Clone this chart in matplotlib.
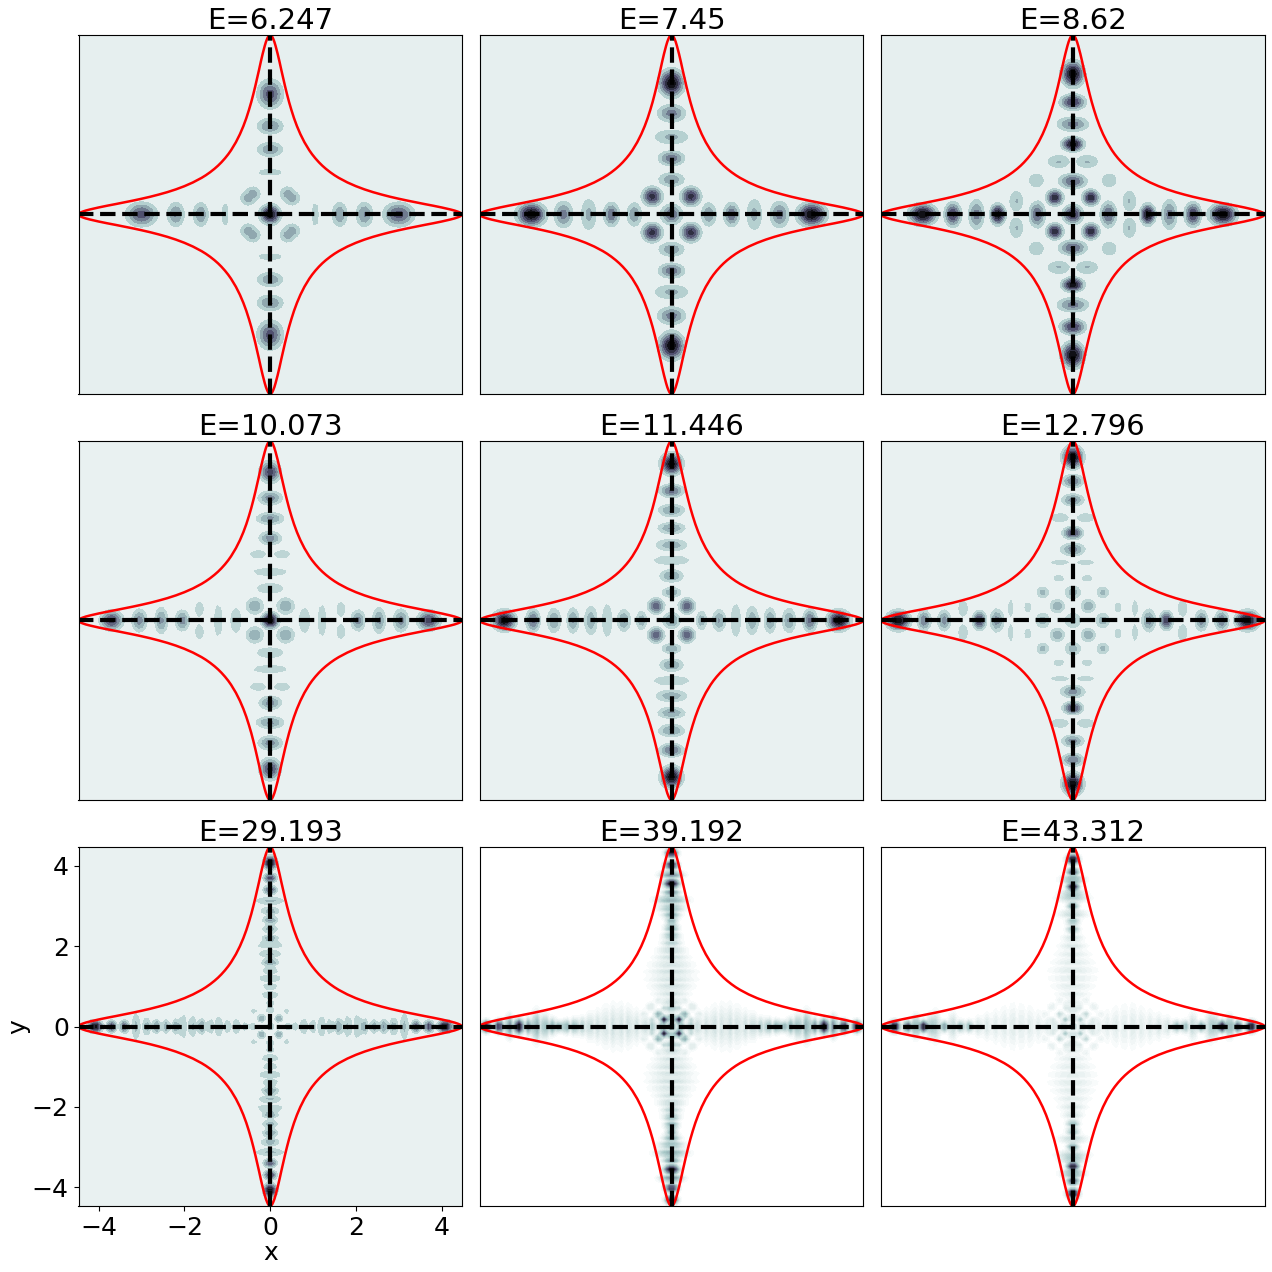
#! /usr/bin/env python3

import numpy as np

import matplotlib
matplotlib.use('Agg')
from matplotlib import pyplot as plt

titles = ["E=6.247", "E=7.45", "E=8.62", "E=10.073", "E=11.446", "E=12.796",
          "E=29.193", "E=39.192", "E=43.312"]

lim = 4.47

# boundary of the well, one arm: distance along axis, half width
arm_a = [1.216, 1.3, 1.4, 1.5, 1.6, 1.8, 2.0, 2.2, 2.4, 2.6, 2.8, 3.0, 3.2, 3.4, 3.6,
         3.8, 4.0, 4.2, 4.3, 4.38, 4.43, 4.46, 4.47]
arm_w = [1.216, 1.137, 1.053, 0.978, 0.912, 0.799, 0.705, 0.625, 0.556, 0.496, 0.441,
         0.392, 0.346, 0.303, 0.260, 0.219, 0.175, 0.126, 0.098, 0.069, 0.046, 0.020, 0.0]

# peaks on the axes: position, height, width along, width across
r1 = [0, 1.05, 1.62, 2.2, 3.0]
h1 = [1.0, 0.2, 0.42, 0.45, 0.65]
a1 = [0.14, 0.085, 0.12, 0.13, 0.22]
c1 = [0.14, 0.34, 0.2, 0.2, 0.18]
# peaks off the axes: x, y, height, width x, width y
o1 = [(0.51, 0.41, 0.38, 0.125, 0.125)]

r2 = [0, 0.87, 1.4, 1.93, 2.52, 3.27]
h2 = [0.6, 0.42, 0.55, 0.33, 0.5, 1.0]
a2 = [0.155, 0.115, 0.115, 0.13, 0.14, 0.2]
c2 = [0.155, 0.2, 0.19, 0.29, 0.21, 0.17]
o2 = [(0.45, 0.45, 0.8, 0.14, 0.14)]

r3 = [0, 0.83, 1.75, 2.25, 2.8, 3.5]
h3 = [0.8, 0.6, 1.0, 0.5, 0.75, 1.0]
a3 = [0.14, 0.115, 0.1, 0.115, 0.115, 0.19]
c3 = [0.14, 0.2, 0.15, 0.235, 0.18, 0.155]
o3 = [(0.42, 0.42, 0.85, 0.115, 0.115), (0.85, 0.85, 0.3, 0.13, 0.13),
      (1.32, 0.33, 0.3, 0.12, 0.2)]

r4 = [0, 0.8, 1.21, 2.05, 2.54, 3.05, 3.7]
h4 = [1.0, 0.22, 0.2, 0.45, 0.42, 0.45, 0.7]
a4 = [0.115, 0.11, 0.09, 0.105, 0.095, 0.11, 0.16]
c4 = [0.115, 0.28, 0.39, 0.165, 0.21, 0.18, 0.145]
o4 = [(0.36, 0.36, 0.38, 0.135, 0.135), (1.65, 0.28, 0.22, 0.08, 0.17)]

r5 = [0, 0.7, 1.11, 1.5, 1.88, 2.3, 2.74, 3.23, 3.9]
h5 = [0.42, 0.35, 0.4, 0.2, 0.35, 0.4, 0.4, 0.55, 1.0]
a5 = [0.13, 0.085, 0.1, 0.11, 0.1, 0.09, 0.1, 0.1, 0.155]
c5 = [0.13, 0.155, 0.18, 0.41, 0.25, 0.21, 0.2, 0.175, 0.145]
o5 = [(0.36, 0.36, 0.62, 0.115, 0.115)]

r6 = [0, 0.7, 1.77, 2.18, 3.0, 3.47, 4.07]
h6 = [0.3, 0.33, 0.45, 0.72, 0.45, 0.5, 1.0]
a6 = [0.135, 0.11, 0.1, 0.09, 0.095, 0.1, 0.16]
c6 = [0.135, 0.13, 0.18, 0.14, 0.165, 0.16, 0.14]
o6 = [(0.36, 0.36, 0.38, 0.11, 0.11), (0.7, 0.7, 0.3, 0.1, 0.1),
      (2.56, 0.3, 0.2, 0.1, 0.2), (1.45, 0.3, 0.2, 0.06, 0.2), (1.05, 0.33, 0.2, 0.07, 0.12)]

r7 = [0, 0.41, 0.58, 0.79, 1.0, 1.2, 1.39, 1.6, 1.81, 2.03, 2.19, 2.43, 2.65, 2.88,
      3.13, 3.4, 3.7, 4.08]
h7 = [0.3, 0.2, 0.2, 0.26, 0.22, 0.26, 0.26, 0.4, 0.28, 0.24, 0.38, 0.34, 0.4, 0.34,
      0.28, 0.6, 0.7, 1.0]
a7 = [0.06, 0.065, 0.065, 0.065, 0.065, 0.065, 0.065, 0.065, 0.065, 0.065, 0.065, 0.065, 0.065, 0.065,
      0.065, 0.065, 0.07, 0.1]
c7 = [0.06, 0.1, 0.1, 0.15, 0.15, 0.2, 0.14, 0.13, 0.2, 0.25, 0.13, 0.12, 0.12, 0.15,
      0.26, 0.1, 0.09, 0.09]
o7 = [(0.2, 0.2, 0.42, 0.06, 0.06), (0.38, 0.38, 0.2, 0.06, 0.06), (0.86, 0.86, 0.135, 0.03, 0.03)]

r8 = [0, 0.22, 0.45, 0.62, 0.82, 1.0, 1.18, 1.36, 1.54, 1.72, 1.9, 2.08, 2.26, 2.45, 2.62,
      2.78, 2.95, 3.15, 3.33, 3.56, 3.78, 4.02, 4.32]
h8 = [0.5, 0.3, 0.25, 0.16, 0.14, 0.15, 0.14, 0.15, 0.14, 0.15, 0.18, 0.22, 0.3, 0.35, 0.35,
      0.35, 0.3, 0.35, 0.45, 1.0, 0.45, 0.8, 0.9]
a8 = [0.06, 0.06, 0.06, 0.06, 0.06, 0.06, 0.06, 0.06, 0.06, 0.06, 0.06, 0.06, 0.06, 0.06, 0.06,
      0.06, 0.06, 0.06, 0.05, 0.06, 0.05, 0.06, 0.06]
c8 = [0.06, 0.1, 0.1, 0.18, 0.25, 0.3, 0.33, 0.33, 0.3, 0.24, 0.2, 0.14, 0.12, 0.1, 0.08,
      0.12, 0.18, 0.22, 0.12, 0.1, 0.16, 0.09, 0.08]
o8 = [(0.17, 0.17, 0.85, 0.05, 0.05), (0.3, 0.3, 0.35, 0.06, 0.06), (0.46, 0.14, 0.22, 0.05, 0.05),
      (0.5, 0.48, 0.12, 0.06, 0.06), (0.65, 0.3, 0.1, 0.06, 0.06), (0.8, 0.15, 0.08, 0.05, 0.12)]

r9 = [0, 0.22, 0.42, 0.6, 0.8, 1.0, 1.2, 1.4, 1.6, 1.8, 2.0, 2.2, 2.42, 2.62, 2.8, 3.0,
      3.2, 3.3, 3.48, 3.66, 3.85, 4.16]
h9 = [0.3, 0.18, 0.14, 0.1, 0.09, 0.1, 0.1, 0.11, 0.1, 0.1, 0.12, 0.14, 0.3, 0.3,
      0.18, 0.4, 0.22, 0.28, 0.9, 0.35, 0.65, 1.0]
a9 = [0.06, 0.06, 0.06, 0.06, 0.06, 0.06, 0.06, 0.06, 0.06, 0.06, 0.06, 0.06, 0.06, 0.06,
      0.06, 0.06, 0.06, 0.06, 0.06, 0.06, 0.06, 0.07]
c9 = [0.06, 0.08, 0.1, 0.15, 0.25, 0.3, 0.33, 0.33, 0.3, 0.25, 0.2, 0.15, 0.09, 0.09,
      0.2, 0.08, 0.22, 0.18, 0.08, 0.16, 0.08, 0.08]
o9 = [(0.17, 0.17, 0.25, 0.05, 0.05), (0.3, 0.3, 0.2, 0.05, 0.05), (0.48, 0.14, 0.15, 0.05, 0.05),
      (0.5, 0.48, 0.08, 0.06, 0.06), (0.65, 0.3, 0.07, 0.06, 0.06)]

arms = [(r1, h1, a1, c1), (r2, h2, a2, c2), (r3, h3, a3, c3), (r4, h4, a4, c4), (r5, h5, a5, c5),
        (r6, h6, a6, c6), (r7, h7, a7, c7), (r8, h8, a8, c8), (r9, h9, a9, c9)]
offs = [o1, o2, o3, o4, o5, o6, o7, o8, o9]
n_bands = [7, 7, 7, 8, 8, 8, 8, 50, 50]

xs = np.linspace(-lim, lim, 128)
X, Y = np.meshgrid(xs, xs)


def blob(x0, y0, h, sx, sy):
    return h * np.exp(-(X - x0)**2 / (2 * sx**2) - (Y - y0)**2 / (2 * sy**2))


def density(arm, off):
    # every peak shows up in all four arms, the picture has that symmetry
    z = np.zeros_like(X)
    for r, h, a, c in zip(*arm):
        for x0, y0, sx, sy in {(r, 0, a, c), (-r, 0, a, c), (0, r, c, a), (0, -r, c, a)}:
            z = np.maximum(z, blob(x0, y0, h, sx, sy))
    for ox, oy, h, sx, sy in off:
        for s1 in (1, -1):
            for s2 in (1, -1):
                z = np.maximum(z, blob(s1 * ox, s2 * oy, h, sx, sy))
                z = np.maximum(z, blob(s1 * oy, s2 * ox, h, sy, sx))
    return z


# well boundary for the upper right quadrant, then mirrored
qx = np.array(arm_a[::-1] + arm_w[1:])
qy = np.array(arm_w[::-1] + arm_a[1:])

fig, axes = plt.subplots(3, 3, figsize=(12.72, 12.72), dpi=100)
fig.subplots_adjust(left=78.5 / 1272, right=1264.5 / 1272, top=1 - 35 / 1272, bottom=1 - 1206 / 1272,
                    wspace=0.047, hspace=0.131)

for ii, ax in enumerate(axes.flat):
    z = density(arms[ii], offs[ii])
    levels = np.linspace(0, 1, n_bands[ii] + 1)
    # the many-level panels start from pure white
    vmin = levels[1] / 2 if n_bands[ii] > 10 else 0
    ax.contourf(X, Y, z, levels=levels, cmap='bone_r', vmin=vmin, vmax=1)
    for s1 in (1, -1):
        for s2 in (1, -1):
            ax.plot(s1 * qx, s2 * qy, color='red', lw=1.8)
    ax.plot([-lim, lim], [0, 0], 'k--', lw=3)
    ax.plot([0, 0], [-lim, lim], 'k--', lw=3)
    ax.set_xlim(-lim, lim)
    ax.set_ylim(-lim, lim)
    ax.set_title(titles[ii], fontsize=21, pad=3)
    if ii == 6:
        ax.set_xticks([-4, -2, 0, 2, 4])
        ax.set_yticks([-4, -2, 0, 2, 4])
        ax.tick_params(labelsize=18)
        ax.set_xlabel('x', fontsize=18, labelpad=1)
        ax.set_ylabel('y', fontsize=18, labelpad=1)
    else:
        ax.set_xticks([])
        ax.set_yticks([])

fig.savefig('out.png', dpi=100)
